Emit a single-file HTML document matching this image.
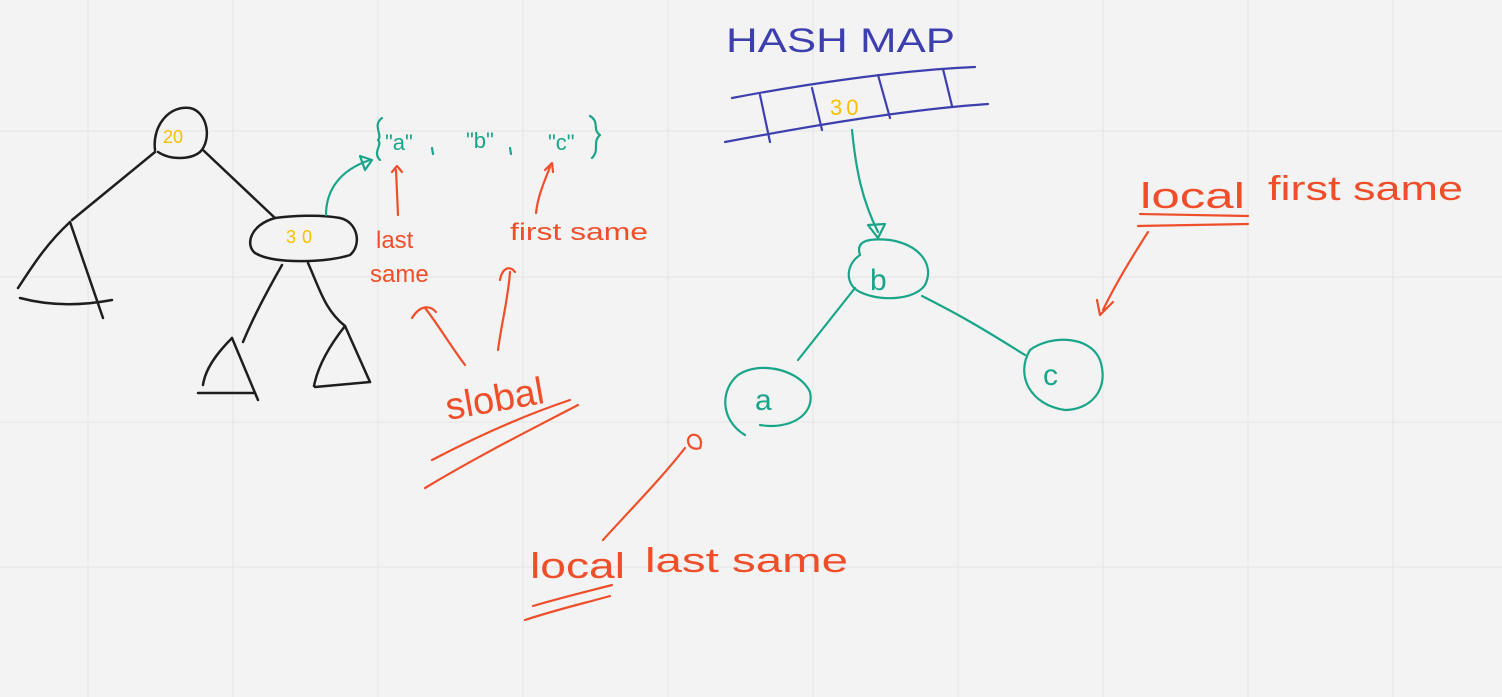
<!DOCTYPE html>
<html><head><meta charset="utf-8"><style>
html,body{margin:0;padding:0;background:#f3f3f3}
svg{display:block}
text{font-family:"Liberation Sans",sans-serif}
</style></head><body>
<svg width="1502" height="697" viewBox="0 0 1502 697" xmlns="http://www.w3.org/2000/svg">
<rect width="1502" height="697" fill="#f3f3f3"/>
<g stroke="#e4e4e4" stroke-width="1">
<line x1="88" y1="0" x2="88" y2="697"/><line x1="233" y1="0" x2="233" y2="697"/><line x1="378" y1="0" x2="378" y2="697"/><line x1="523" y1="0" x2="523" y2="697"/><line x1="668" y1="0" x2="668" y2="697"/><line x1="813" y1="0" x2="813" y2="697"/><line x1="958" y1="0" x2="958" y2="697"/><line x1="1103" y1="0" x2="1103" y2="697"/><line x1="1248" y1="0" x2="1248" y2="697"/><line x1="1393" y1="0" x2="1393" y2="697"/>
<line x1="0" y1="131" x2="1502" y2="131"/><line x1="0" y1="277" x2="1502" y2="277"/><line x1="0" y1="422" x2="1502" y2="422"/><line x1="0" y1="567" x2="1502" y2="567"/>
</g>
<g fill="none" stroke-linecap="round" stroke-linejoin="round">
<g stroke="#1e1e1e" stroke-width="2.5">
<path d="M155,150 C152,125 170,105 190,108 C208,112 212,140 200,152 C190,160 170,160 158,152"/>
<path d="M155,152 L72,220"/><path d="M203,150 L275,218"/>
<path d="M70,222 C45,245 30,270 18,288"/><path d="M70,222 L103,318"/><path d="M20,298 C50,306 80,306 112,300"/>
<path d="M275,218 C250,225 245,245 255,253 C275,265 330,262 350,255 C362,245 358,222 340,218 C320,214 290,216 275,218"/>
<path d="M282,265 C262,300 250,325 243,342"/><path d="M308,263 C320,290 325,310 345,326"/>
<path d="M232,338 C215,355 205,370 203,385"/><path d="M232,338 L258,400"/><path d="M198,393 L255,393"/>
<path d="M345,326 C330,345 318,365 314,386"/><path d="M345,326 L370,382"/><path d="M315,387 L370,382"/>
</g>
<text x="163" y="143" font-size="18" fill="#f5c000" stroke="none">20</text>
<text x="286" y="243" font-size="18" fill="#f5c000" stroke="none" letter-spacing="6">30</text>
<g stroke="#19a589" stroke-width="2.2">
<path d="M326,215 C326,190 340,170 370,160"/><path d="M360,156 L372,160 L365,170 Z"/>
<path d="M382,118 C372,125 383,135 378,140 C383,145 372,152 380,160"/>
<path d="M590,116 C600,122 592,130 600,135 C592,142 600,150 592,158"/>
<path d="M432,148 L433,154"/><path d="M510,148 L511,154"/>
</g>
<g fill="#19a589" stroke="none" font-size="22">
<text x="385" y="150">"a"</text><text x="466" y="148">"b"</text><text x="548" y="150">"c"</text>
</g>
<g stroke="#ee4f2a" stroke-width="2.2">
<path d="M398,215 L396,170"/><path d="M392,172 L397,166 L402,172"/>
<path d="M536,213 C538,195 545,180 550,167"/><path d="M545,170 L552,163 L553,172"/>
<path d="M465,365 C450,345 435,320 425,308"/><path d="M412,318 C420,305 430,305 436,312"/>
<path d="M498,350 C502,320 508,300 510,272"/><path d="M500,280 C502,268 510,265 515,272"/>
<path d="M432,460 C480,435 525,415 570,400"/><path d="M425,488 C480,455 530,430 578,405"/>
<path d="M1148,232 C1130,260 1115,285 1103,310"/><path d="M1097,300 L1100,315 L1113,302"/>
<path d="M1140,214 L1248,216"/><path d="M1138,226 L1248,224"/>
<path d="M685,448 C660,480 630,510 603,540"/><path d="M688,440 C690,430 705,435 700,448 C695,450 688,448 688,440"/>
<path d="M533,606 C560,598 585,592 612,585"/><path d="M525,620 C555,610 585,603 610,596"/>
</g>
<g fill="#ee4f2a" stroke="none" font-size="24">
<text x="376" y="248">last</text><text x="370" y="282">same</text>
<text x="510" y="240" textLength="138" lengthAdjust="spacingAndGlyphs">first same</text>
<text x="448" y="420" font-size="38" transform="rotate(-10 448 420)">slobal</text>
<text x="1140" y="208" font-size="36" textLength="105" lengthAdjust="spacingAndGlyphs">local</text>
<text x="1268" y="200" font-size="34" textLength="195" lengthAdjust="spacingAndGlyphs">first same</text>
<text x="530" y="578" font-size="36" textLength="95" lengthAdjust="spacingAndGlyphs">local</text>
<text x="645" y="572" font-size="34" textLength="203" lengthAdjust="spacingAndGlyphs">last same</text>
</g>
<g stroke="#3d3fae" stroke-width="2.2">
<path d="M732,98 C800,85 900,70 975,67"/><path d="M725,142 C800,128 900,110 988,104"/>
<path d="M760,95 L770,142"/><path d="M812,88 L822,130"/><path d="M878,75 L890,118"/><path d="M943,69 L952,106"/>
</g>
<text x="726" y="52" font-size="34" fill="#3d3fae" stroke="none" textLength="229" lengthAdjust="spacingAndGlyphs">HASH MAP</text>
<text x="830" y="115" font-size="22" fill="#f5c000" stroke="none" letter-spacing="4">30</text>
<g stroke="#19a589" stroke-width="2.2">
<path d="M852,130 C856,170 862,200 878,232"/><path d="M868,225 L878,238 L885,224 Z"/>
<path d="M860,255 C855,240 870,238 890,240 C920,245 935,265 925,285 C915,300 880,302 860,292 C845,285 845,265 860,255"/>
<path d="M855,288 L798,360"/><path d="M922,296 C960,315 985,330 1025,355"/>
<path d="M745,435 C720,420 720,390 738,375 C760,360 800,370 810,392 C815,415 790,430 760,425"/>
<path d="M1030,350 C1050,335 1090,335 1100,360 C1110,390 1090,410 1065,410 C1030,405 1015,375 1030,350"/>
</g>
<text x="870" y="290" font-size="30" fill="#19a589" stroke="none">b</text>
<text x="755" y="410" font-size="30" fill="#19a589" stroke="none">a</text>
<text x="1043" y="385" font-size="30" fill="#19a589" stroke="none">c</text>
</g>
</svg>
</body></html>
